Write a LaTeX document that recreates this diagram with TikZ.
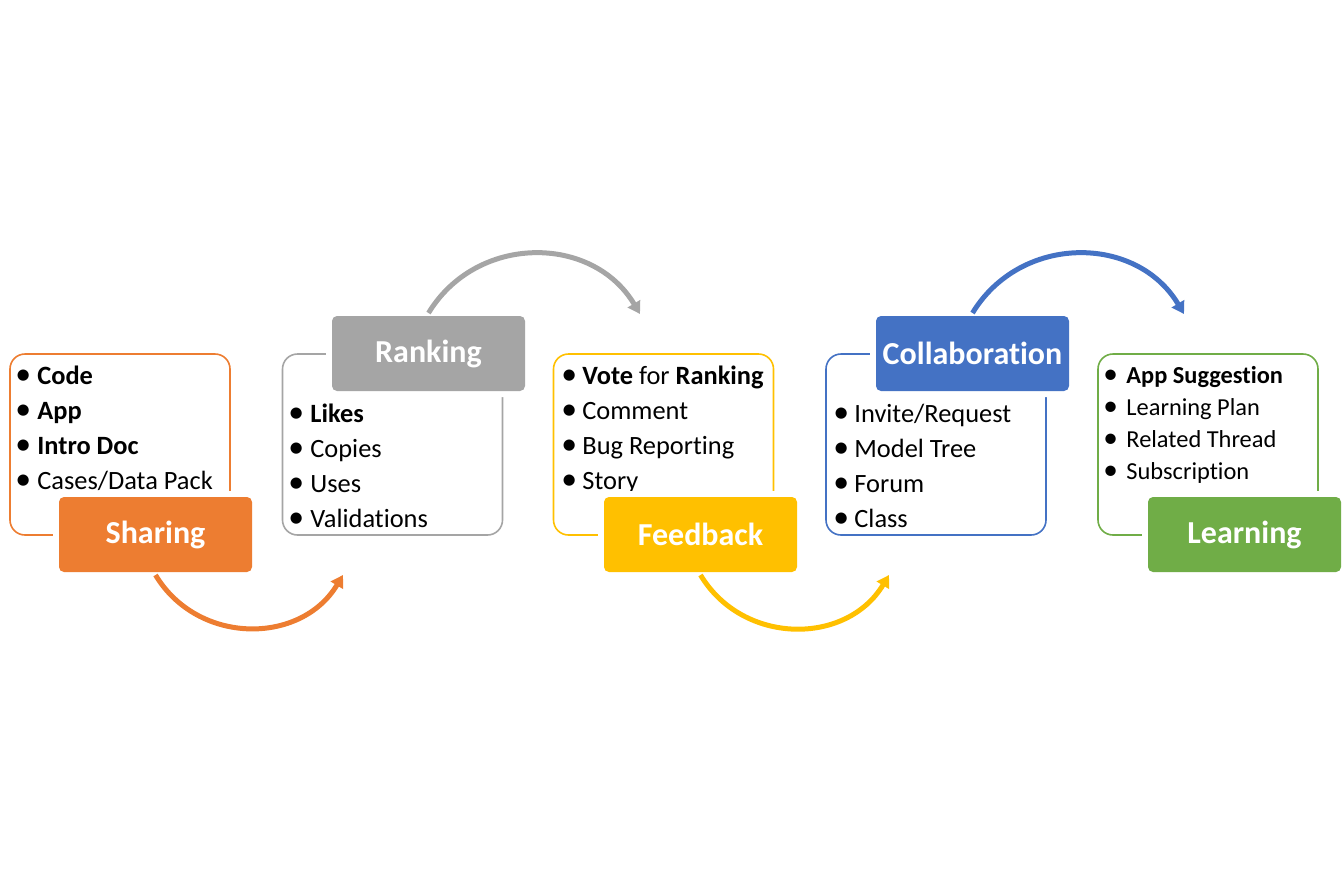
\documentclass[tikz,border=0pt]{standalone}
\usepackage{fontspec}
\setmainfont{Carlito}[Ligatures=NoCommon]
\usetikzlibrary{arrows.meta}
\definecolor{cOrange}{HTML}{ED7D31}
\definecolor{cGray}{HTML}{A5A5A5}
\definecolor{cYellow}{HTML}{FFC000}
\definecolor{cBlue}{HTML}{4472C4}
\definecolor{cGreen}{HTML}{70AD47}
\tikzset{
	listbox/.style={draw=#1, fill=white, line width=0.8pt, rounded corners=7.5pt, minimum width=110pt, minimum height=90.5pt},
	titlebox/.style={fill=#1, preaction={draw=white, line width=6pt}, rounded corners=2.5pt, minimum width=96.5pt, minimum height=37.5pt, outer sep=1.5pt, text=white, font=\bfseries\fontsize{16}{19}\selectfont},
	item/.style={anchor=base west, inner sep=0pt, font=\fontsize{13.2}{16}\selectfont},
	flow/.style={draw=#1, line width=2.5pt, -{Triangle[length=6pt, width=7pt]}, looseness=1.12}
}
\newcommand{\bul}[1]{\makebox[#1][l]{\scalebox{1.2}{\textbullet}}}
\begin{document}
\begin{tikzpicture}[x=0.5pt, y=-0.5pt]
	\useasboundingbox (0,0) rectangle (1343,889);
	\def\dy{35}
	
	%Listen
	\node[listbox=cOrange] (sharingList) at (120,444.5) {};
	\node[listbox=cGray] (rankingList) at (392.5,444.5) {};
	\node[listbox=cYellow] (feedbackList) at (663.5,444.5) {};
	\node[listbox=cBlue] (collabList) at (936,444.5) {};
	\node[listbox=cGreen] (learningList) at (1208,444.5) {};
	
	\foreach \t [count=\i from 0] in {{\bfseries Code}, {\bfseries App}, {\bfseries Intro Doc}, Cases/Data Pack}
		\node[item] (sharing-\i) at (15, 384+\dy*\i) {\bul{11pt}\t};
	\foreach \t [count=\i from 0] in {{\bfseries Likes}, Copies, Uses, Validations}
		\node[item] (ranking-\i) at (288, 422+\dy*\i) {\bul{11pt}\t};
	\foreach \t [count=\i from 0] in {{{\bfseries Vote} for {\bfseries Ranking}}, Comment, Bug Reporting, Story}
		\node[item] (feedback-\i) at (561, 384+\dy*\i) {\bul{10.5pt}\t};
	\foreach \t [count=\i from 0] in {Invite/Request, Model Tree, Forum, Class}
		\node[item] (collab-\i) at (833, 422+\dy*\i) {\bul{10.5pt}\t};
	\foreach \t [count=\i from 0] in {{\bfseries App Suggestion}, Learning Plan, Related Thread, Subscription}
		\node[item, font=\fontsize{12.2}{15}\selectfont] (learning-\i) at (1103, 383+32*\i) {\bul{11.5pt}\t};
	
	%Titel
	\node[titlebox=cOrange] (sharing) at (155.5,534.5) {Sharing};
	\node[titlebox=cGray] (ranking) at (428.5,353.5) {Ranking};
	\node[titlebox=cYellow] (feedback) at (700.5,534.5) {Feedback};
	\node[titlebox=cBlue] (collab) at (972.5,353.5) {Collaboration};
	\node[titlebox=cGreen] (learning) at (1244.5,534.5) {Learning};
	
	%Pfeile
	\coordinate (toRanking) at (343,575);
	\coordinate (toFeedback) at (640,314);
	\coordinate (toCollab) at (889,575);
	\coordinate (toLearning) at (1184,314);
	\draw[flow=cOrange] (sharing.south) to[bend right=59] (toRanking);
	\draw[flow=cGray] (ranking.north) to[bend left=59] (toFeedback);
	\draw[flow=cYellow] (feedback.south) to[bend right=59] (toCollab);
	\draw[flow=cBlue] (collab.north) to[bend left=59] (toLearning);
	
\end{tikzpicture}
\end{document}
